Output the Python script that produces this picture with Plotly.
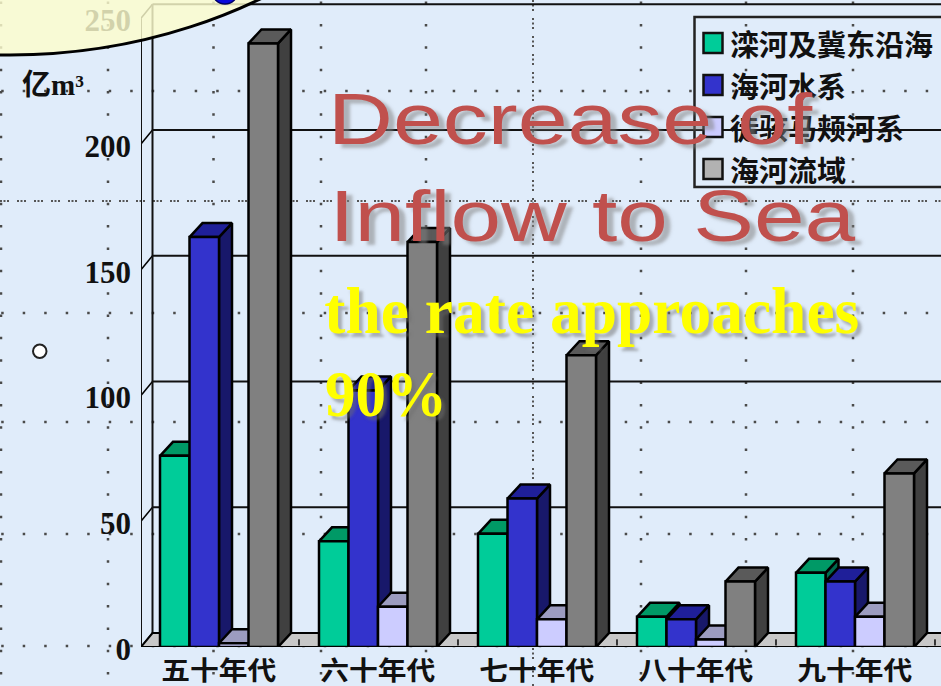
import plotly.graph_objects as go

# Inflow to the sea per decade, in 亿m³
decades = ["五十年代", "六十年代", "七十年代", "八十年代", "九十年代"]
luan_ji = [76, 42, 45, 12, 29.5]
haihe_water = [163, 102, 59, 11, 26]
tuhai_majia = [1.5, 16, 11, 3, 12]
basin = [240, 161, 116, 26, 69]
series_names = ["滦河及冀东沿海", "海河水系", "徒骇马颊河系", "海河流域"]
series_values = [luan_ji, haihe_water, tuhai_majia, basin]
front_colors = ["#00CC99", "#3333CC", "#CCCCFF", "#808080"]
top_colors = ["#009966", "#1F1F99", "#9C9CC0", "#5A5A5A"]
side_colors = ["#006B4F", "#18186A", "#6E6E90", "#404040"]
swatch_colors = ["#00CC99", "#3333CC", "#CCCCFF", "#B2B2B2"]
y_ticks = [0, 50, 100, 150, 200, 250]

WIDTH, HEIGHT = 941, 686
LEFT, BOTTOM = 141, 39
PX_PER_UNIT = 2.515
GROUP_PX = 159
ORIGIN_PX = 160

BAR_W = 29.5 / GROUP_PX
DEPTH_X = 13 / GROUP_PX
DEPTH_Y = 14 / PX_PER_UNIT
X0 = (LEFT - ORIGIN_PX) / GROUP_PX
X1 = (WIDTH - ORIGIN_PX) / GROUP_PX
Y1 = (HEIGHT - BOTTOM) / PX_PER_UNIT
WALL_X = X0 + 11.5 / GROUP_PX
EDGE = 2.5


def px(x):
    return (x - LEFT) / (WIDTH - LEFT)


def py(y):
    return (HEIGHT - BOTTOM - y) / (HEIGHT - BOTTOM)


def polygons(faces):
    xs, ys = [], []
    for face in faces:
        xs += [p[0] for p in face] + [face[0][0], None]
        ys += [p[1] for p in face] + [face[0][1], None]
    return xs, ys


fig = go.Figure()

# Floor of the 3D box, with its short category ticks
fig.add_trace(go.Scatter(
    x=[X0, WALL_X, X1 + 0.1, X1 + 0.1, X0], y=[0, DEPTH_Y, DEPTH_Y, 0, 0],
    mode="lines", fill="toself", fillcolor="#C8C8C8",
    line=dict(color="black", width=2), hoverinfo="skip", showlegend=False, zorder=0))
tick_x, tick_y = [], []
for i in range(1, 6):
    tick_x += [i - 0.126, i - 0.126, None]
    tick_y += [0.6, DEPTH_Y * 0.55, None]
fig.add_trace(go.Scatter(x=tick_x, y=tick_y, mode="lines", line=dict(color="#333", width=2),
                         hoverinfo="skip", showlegend=False, zorder=0))

# Each series: side and top faces first, then the front face as a real bar
for k, (name, values) in enumerate(zip(series_names, series_values)):
    sides, tops = [], []
    for i, v in enumerate(values):
        left = i + k * BAR_W
        right = left + BAR_W
        sides.append([(right, 0), (right + DEPTH_X, DEPTH_Y), (right + DEPTH_X, v + DEPTH_Y), (right, v)])
        tops.append([(left, v), (left + DEPTH_X, v + DEPTH_Y), (right + DEPTH_X, v + DEPTH_Y), (right, v)])
    for faces, color in ((sides, side_colors[k]), (tops, top_colors[k])):
        fx, fy = polygons(faces)
        fig.add_trace(go.Scatter(x=fx, y=fy, mode="lines", fill="toself", fillcolor=color,
                                 line=dict(color="black", width=EDGE), hoverinfo="skip",
                                 showlegend=False, zorder=2 * k + 1))
    fig.add_trace(go.Bar(x=list(range(len(decades))), y=values, name=name, width=BAR_W,
                         offset=k * BAR_W, marker=dict(color=front_colors[k], line=dict(color="black", width=EDGE)),
                         showlegend=False, zorder=2 * k + 2))

shapes = []


def line(x0, y0, x1, y1, **kw):
    shapes.append(dict(type="line", xref="paper", yref="paper", x0=px(x0), y0=py(y0), x1=px(x1), y1=py(y1),
                       layer="below", line=kw))


# Slide grid behind the chart: dotted rows, columns and the two centre guides
DOT = "#4A4A4A"
for y in [91, 313, 422, 534, 646]:
    line(1.2, y, WIDTH, y, color=DOT, width=2.5, dash="2.5px,19px")
for x in [1, 108, 213.5, 321, 426, 641, 746, 853]:
    line(x, 1.6, x, HEIGHT, color=DOT, width=2.5, dash="2.5px,19.85px")
line(0, 201, WIDTH, 201, color="#555", width=2, dash="2px,1.5px,2px,1.5px,2px,8px")
line(533, 0, 533, HEIGHT, color="#555", width=2, dash="2px,2.5px,2px,2.5px,2px,7px")

# Back wall, its gridlines and the slanted value ticks on the front edge
for v in y_ticks:
    shapes.append(dict(type="line", xref="x", yref="y", x0=X0, y0=v, x1=WALL_X, y1=v + DEPTH_Y, layer="below",
                       line=dict(color="black", width=1.5)))
    if v > 0:
        shapes.append(dict(type="line", xref="x", yref="y", x0=WALL_X, y0=v + DEPTH_Y, x1=X1 + 0.1, y1=v + DEPTH_Y,
                           layer="below", line=dict(color="#111", width=2)))
shapes.append(dict(type="line", xref="x", yref="y", x0=X0, y0=0, x1=X0, y1=250, layer="below",
                   line=dict(color="#111", width=2)))
shapes.append(dict(type="line", xref="x", yref="y", x0=WALL_X, y0=DEPTH_Y, x1=WALL_X, y1=250 + DEPTH_Y, layer="below",
                   line=dict(color="#111", width=2)))

# Legend frame and swatches
shapes.append(dict(type="rect", xref="paper", yref="paper", x0=px(694.5), y0=py(17), x1=px(960), y1=py(187),
                   layer="above", line=dict(color="#222", width=2.5)))
legend_rows = [43, 85, 127, 169]
annotations = []
for row, name, color in zip(legend_rows, series_names, swatch_colors):
    shapes.append(dict(type="rect", xref="paper", yref="paper", x0=px(703.5), y0=py(row - 10), x1=px(722.5),
                       y1=py(row + 10), layer="above", fillcolor=color, line=dict(color="#111", width=2.5)))
    annotations.append(dict(xref="paper", yref="paper", x=px(728), y=py(row), xanchor="left", yanchor="middle",
                            text=f"<b>{name}</b>", showarrow=False,
                            font=dict(family="Noto Sans CJK SC", size=29, color="#111")))

# Speech balloon in the top-left corner, with the marker poking in above it
shapes.append(dict(type="circle", xref="paper", yref="paper", x0=px(10 - 490), y0=py(-745), x1=px(10 + 490), y1=py(55),
                   layer="above", fillcolor="rgba(252,252,205,0.82)", line=dict(color="black", width=3)))
shapes.append(dict(type="circle", xref="paper", yref="paper", x0=px(212), y0=py(-22), x1=px(238), y1=py(4),
                   layer="above", fillcolor="#0A0ADC", line=dict(color="#000066", width=1.5)))
# Small hollow marker at the left edge
shapes.append(dict(type="circle", xref="paper", yref="paper", x0=px(33), y0=py(344.5), x1=px(46.5), y1=py(358),
                   layer="above", fillcolor="white", line=dict(color="#222", width=2)))

annotations.append(dict(xref="paper", yref="paper", x=px(20), y=py(85), xanchor="left", yanchor="middle",
                        text="<b>亿m³</b>", showarrow=False,
                        font=dict(family="Liberation Serif, Noto Sans CJK SC", size=29, color="#111")))

RED = "#C0504D"
RED_SHADOW = "5px 4px 3px rgba(130,130,130,0.55)"
YELLOW_SHADOW = "4px 4px 3px rgba(110,110,110,0.5)"
headings = [
    ("Decrease of", 570, 119, "Liberation Sans", 72, RED, RED_SHADOW, 484),
    ("Inflow to Sea", 592, 216, "Liberation Sans", 72, RED, RED_SHADOW, 526),
    ("<b>the rate approaches</b>", 592, 311, "Liberation Serif", 65, "#FFFF00", YELLOW_SHADOW, 535),
    ("<b>90%</b>", 386, 394, "Liberation Serif", 65, "#FFFF00", YELLOW_SHADOW, 122),
]
for text, x, y, family, size, color, shadow, _ in headings:
    annotations.append(dict(xref="paper", yref="paper", x=px(x), y=py(y), xanchor="center", yanchor="middle",
                            text=text, showarrow=False, font=dict(family=family, size=size, color=color, shadow=shadow)))

fig.update_layout(
    width=WIDTH, height=HEIGHT, margin=dict(l=LEFT, r=0, t=0, b=BOTTOM),
    paper_bgcolor="#E0ECFA", plot_bgcolor="rgba(0,0,0,0)",
    barmode="overlay", shapes=shapes, annotations=annotations, showlegend=False,
    xaxis=dict(range=[X0, X1], tickvals=[i + 0.37 for i in range(len(decades))], ticktext=[f"<b>{d}</b>" for d in decades],
               tickfont=dict(family="Noto Sans CJK SC", size=26, color="#111"), ticks="", showgrid=False,
               zeroline=False, showline=True, linecolor="#111", linewidth=2, automargin=False, ticklabelstandoff=0),
    yaxis=dict(range=[0, Y1], tickvals=y_ticks, ticktext=[f"<b>{v}</b>" for v in y_ticks],
               tickfont=dict(family="Liberation Serif", size=31, color="#111"), ticks="", showgrid=False,
               zeroline=False, showline=False, automargin=False, ticklabelstandoff=9, ticklabelshift=2,
               ticklabeloverflow="allow"),
)

# Widen the heading lines and decade labels to their set widths
fit = {t.replace("<b>", "").replace("</b>", ""): w for t, *_, w in headings}
fit.update({d: 115 for d in decades})
script = """
var fit = %s;
function widen() {
  document.getElementById('{plot_id}').querySelectorAll('.annotation-text, .xtick text').forEach(function (el) {
    var w = fit[el.textContent];
    if (w) { el.setAttribute('textLength', w); el.setAttribute('lengthAdjust', 'spacingAndGlyphs'); }
  });
}
widen();
setTimeout(widen, 30);
""" % str(fit)

fig.write_html("out.html", post_script=script, config=dict(displayModeBar=False))
